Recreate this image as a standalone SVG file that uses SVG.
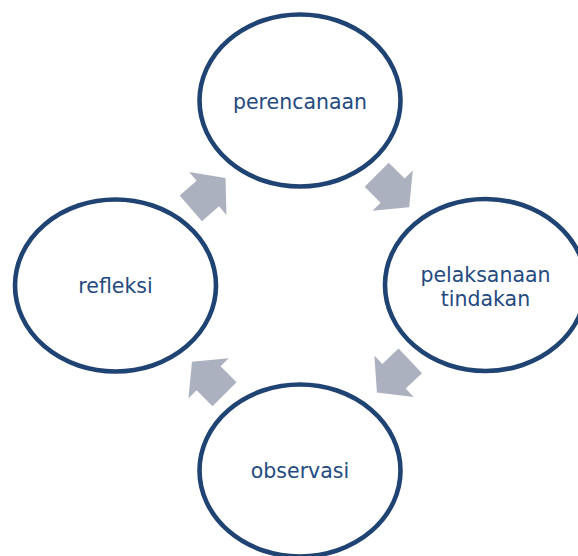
<svg xmlns="http://www.w3.org/2000/svg" width="578" height="556" viewBox="0 0 578 556">
<defs>
<style>
.node ellipse{fill:#ffffff;stroke:#1F4373;stroke-width:4.6}
.node text{font-family:"DejaVu Sans",Verdana,sans-serif;font-size:20.5px;fill:#244A80;text-anchor:middle}
.arrow{fill:#ACB1BF}
</style>
<path id="arw" d="M0,-17 L22.5,-17 L22.5,-28.5 L46,0 L22.5,28.5 L22.5,17 L0,17 Z"/>
</defs>
<rect width="578" height="556" fill="#ffffff"/>
<g id="connectors">
<use href="#arw" class="arrow" transform="translate(190.8,208.3) rotate(-41)"/>
<use href="#arw" class="arrow" transform="translate(376.7,174.7) rotate(45)"/>
<use href="#arw" class="arrow" transform="translate(410.3,360.8) rotate(136.5)"/>
<use href="#arw" class="arrow" transform="translate(224.5,394.2) rotate(-135)"/>
</g>
<g id="perencanaan" class="node">
<ellipse cx="300" cy="100.5" rx="100.5" ry="86"/>
<text x="300" y="108.5">perencanaan</text>
</g>
<g id="pelaksanaan" class="node">
<ellipse cx="485.5" cy="285" rx="100.5" ry="86"/>
<text x="485.5" y="282">pelaksanaan</text>
<text x="485.5" y="306">tindakan</text>
</g>
<g id="observasi" class="node">
<ellipse cx="300" cy="470.5" rx="100.5" ry="86"/>
<text x="300" y="478">observasi</text>
</g>
<g id="refleksi" class="node">
<ellipse cx="115.5" cy="285.5" rx="100.5" ry="86"/>
<text x="115.5" y="293">refleksi</text>
</g>
</svg>
